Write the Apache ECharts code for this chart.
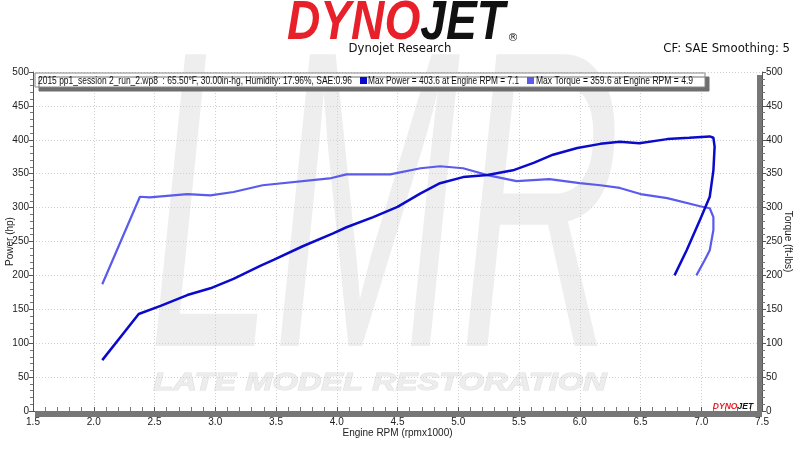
<!DOCTYPE html>
<html>
<head>
<meta charset="utf-8">
<script src="https://cdn.jsdelivr.net/npm/echarts@6/dist/echarts.min.js"></script>
<style>html,body{margin:0;padding:0;background:#fff}#c{width:800px;height:450px}</style>
</head>
<body>
<div id="c"></div>
<script>
// ---- data ----
const rpmPower = [2.07, 2.37, 2.55, 2.77, 2.96, 3.15, 3.37, 3.48, 3.72, 3.97, 4.08, 4.30, 4.50, 4.69, 4.85, 5.04, 5.24, 5.45, 5.62, 5.78, 5.98, 6.17, 6.33, 6.49, 6.72, 6.90, 7.07, 7.10, 7.11, 7.10, 7.07, 6.99, 6.88, 6.78];
const power    = [75, 143, 155, 171, 181, 195, 214, 223, 243, 262, 271, 286, 301, 321, 336, 345, 348, 355, 366, 378, 388, 394, 397, 395, 401, 403, 405, 403, 390, 355, 316, 282, 237, 200];
const rpmTorque = [2.07, 2.38, 2.46, 2.77, 2.96, 3.15, 3.39, 3.94, 4.08, 4.44, 4.69, 4.85, 5.04, 5.24, 5.48, 5.75, 6.00, 6.17, 6.33, 6.50, 6.72, 6.99, 7.07, 7.10, 7.10, 7.07, 7.03, 6.96];
const torque    = [187, 316, 315, 320, 318, 323, 333, 343, 349, 349, 358, 361, 358, 348, 339, 342, 336, 333, 329, 320, 314, 302, 299, 286, 267, 237, 223, 200];
const runInfo = "2015 pp1_session 2_run_2.wp8  : 65.50°F, 30.00in-hg, Humidity: 17.96%, SAE:0.96";
const legendTexts = ["Max Power = 403.6 at Engine RPM = 7.1", "Max Torque = 359.6 at Engine RPM = 4.9"];
const seriesNames = ["Power", "Torque"];
const colors = ["#0a0acc", "#5a5aec"];

const font = "Liberation Sans";
const mctx = document.createElement('canvas').getContext('2d');
function fit(text, f, w) { mctx.font = f; return w / mctx.measureText(text).width; }
const legFont = '11px "Liberation Sans"';
const logoFont = 'italic bold 56px "Liberation Sans"';

const chart = echarts.init(document.getElementById('c'));
const axisCommon = {
  type: 'value', min: 0, max: 500, interval: 50,
  axisLine: { show: true, lineStyle: { color: '#555', width: 1 } },
  axisTick: { show: true, length: 4, lineStyle: { color: '#555' } },
  minorTick: { show: true, splitNumber: 5, length: 3, lineStyle: { color: '#777' } },
  axisLabel: { color: '#222', fontSize: 10, fontFamily: font, margin: 4 },
  nameLocation: 'middle', nameMoveOverlap: false,
  nameTextStyle: { color: '#222', fontSize: 10, fontFamily: font }
};
chart.setOption({
  animation: false,
  grid: { left: 33, right: 38, top: 72, bottom: 39, outerBoundsMode: 'none', containLabel: false },
  xAxis: {
    type: 'value', min: 1.5, max: 7.5, interval: 0.5,
    name: 'Engine RPM (rpmx1000)', nameLocation: 'middle', nameGap: 17, nameMoveOverlap: false,
    nameTextStyle: { color: '#222', fontSize: 10, fontFamily: font },
    axisLine: { show: true, lineStyle: { color: '#555' } },
    axisTick: { show: true, length: 4, inside: true, lineStyle: { color: '#555' } },
    minorTick: { show: true, splitNumber: 5, length: 4, lineStyle: { color: '#777' } },
    axisLabel: { color: '#222', fontSize: 10, fontFamily: font, margin: 6, formatter: v => v.toFixed(1) },
    splitLine: { show: true, lineStyle: { color: '#d0d0d0', type: [1, 2] } }
  },
  yAxis: [
    Object.assign({}, axisCommon, {
      position: 'left', name: 'Power (hp)', nameGap: 18,
      splitLine: { show: true, lineStyle: { color: '#d0d0d0', type: [1, 2] } }
    }),
    Object.assign({}, axisCommon, {
      position: 'right', name: 'Torque (ft-lbs)', nameGap: 21, nameRotate: -90,
      splitLine: { show: false }
    })
  ],
  series: [
    { name: seriesNames[0], type: 'line', yAxisIndex: 0, showSymbol: false, smooth: false,
      lineStyle: { color: colors[0], width: 2.5 }, itemStyle: { color: colors[0] }, z: 5,
      data: rpmPower.map((r, i) => [r, power[i]]) },
    { name: seriesNames[1], type: 'line', yAxisIndex: 1, showSymbol: false, smooth: false,
      lineStyle: { color: colors[1], width: 2.2 }, itemStyle: { color: colors[1] }, z: 4,
      data: rpmTorque.map((r, i) => [r, torque[i]]) }
  ],
  graphic: [
    // watermark
    { type: 'text', z: -10, style: { text: 'LMR', x: 385, y: 228, align: 'center', verticalAlign: 'middle',
      font: 'italic 400px "Liberation Sans"', fill: '#eeeeee' }, scaleX: 0.56, scaleY: 1.06, originX: 385, originY: 228 },
    { type: 'text', z: -10, style: { text: 'LATE MODEL RESTORATION', x: 380, y: 383, align: 'center', verticalAlign: 'middle',
      font: 'italic bold 24px "Liberation Sans"', fill: '#ededed', stroke: '#e0e0e0', lineWidth: 1 }, scaleX: 1.36, originX: 380, originY: 383 },
    // logo
    { type: 'text', z: 10, style: { x: 396, y: 52, align: 'center', verticalAlign: 'bottom',
      rich: { r: { fill: '#e8202a', font: logoFont }, k: { fill: '#111', font: logoFont } },
      text: '{r|DYNO}{k|JET}' }, scaleX: fit('DYNOJET', logoFont, 218), originX: 396, originY: 52 },
    { type: 'text', z: 10, style: { x: 513, y: 38, align: 'center', verticalAlign: 'middle', text: '®', font: '11px "DejaVu Sans"', fill: '#222' } },
    { type: 'text', z: 10, style: { x: 400, y: 49, align: 'center', verticalAlign: 'middle', text: 'Dynojet Research', font: '13px "DejaVu Sans"', fill: '#111' }, scaleX: 0.9, originX: 400, originY: 49 },
    { type: 'text', z: 10, style: { x: 790, y: 49, align: 'right', verticalAlign: 'middle', text: 'CF: SAE Smoothing: 5', font: '13px "DejaVu Sans"', fill: '#111' }, scaleX: 0.9, originX: 790, originY: 49 },
    // legend box
    { type: 'rect', z: 20, shape: { x: 35, y: 73, width: 670, height: 14 },
      style: { fill: '#fff', stroke: '#888', lineWidth: 1, shadowColor: '#6e6e6e', shadowOffsetX: 4, shadowOffsetY: 4, shadowBlur: 0 } },
    { type: 'text', z: 21, style: { x: 38, y: 80.5, verticalAlign: 'middle', text: runInfo, font: legFont, fill: '#111' }, scaleX: fit(runInfo, legFont, 314), originX: 38, originY: 80 },
    { type: 'rect', z: 21, shape: { x: 360, y: 77, width: 7, height: 7 }, style: { fill: colors[0] } },
    { type: 'text', z: 21, style: { x: 368, y: 80.5, verticalAlign: 'middle', text: legendTexts[0], font: legFont, fill: '#111' }, scaleX: fit(legendTexts[0], legFont, 151), originX: 368, originY: 80 },
    { type: 'rect', z: 21, shape: { x: 527, y: 77, width: 7, height: 7 }, style: { fill: colors[1] } },
    { type: 'text', z: 21, style: { x: 536, y: 80.5, verticalAlign: 'middle', text: legendTexts[1], font: legFont, fill: '#111' }, scaleX: fit(legendTexts[1], legFont, 157), originX: 536, originY: 80 },
    // frame shadow bands
    { type: 'rect', z: 20, shape: { x: 35, y: 411, width: 727, height: 6 }, style: { fill: '#777' } },
    { type: 'rect', z: 20, shape: { x: 757, y: 75, width: 5, height: 342 }, style: { fill: '#777' } },
    // small logo bottom right
    { type: 'text', z: 21, style: { x: 733, y: 407, align: 'center', verticalAlign: 'middle',
      rich: { r: { fill: '#e8202a', font: 'italic bold 9px "Liberation Sans"' }, k: { fill: '#111', font: 'italic bold 9px "Liberation Sans"' } },
      text: '{r|DYNO}{k|JET}' }, scaleX: 0.95, originX: 733, originY: 407 }
  ]
});
</script>
</body>
</html>
